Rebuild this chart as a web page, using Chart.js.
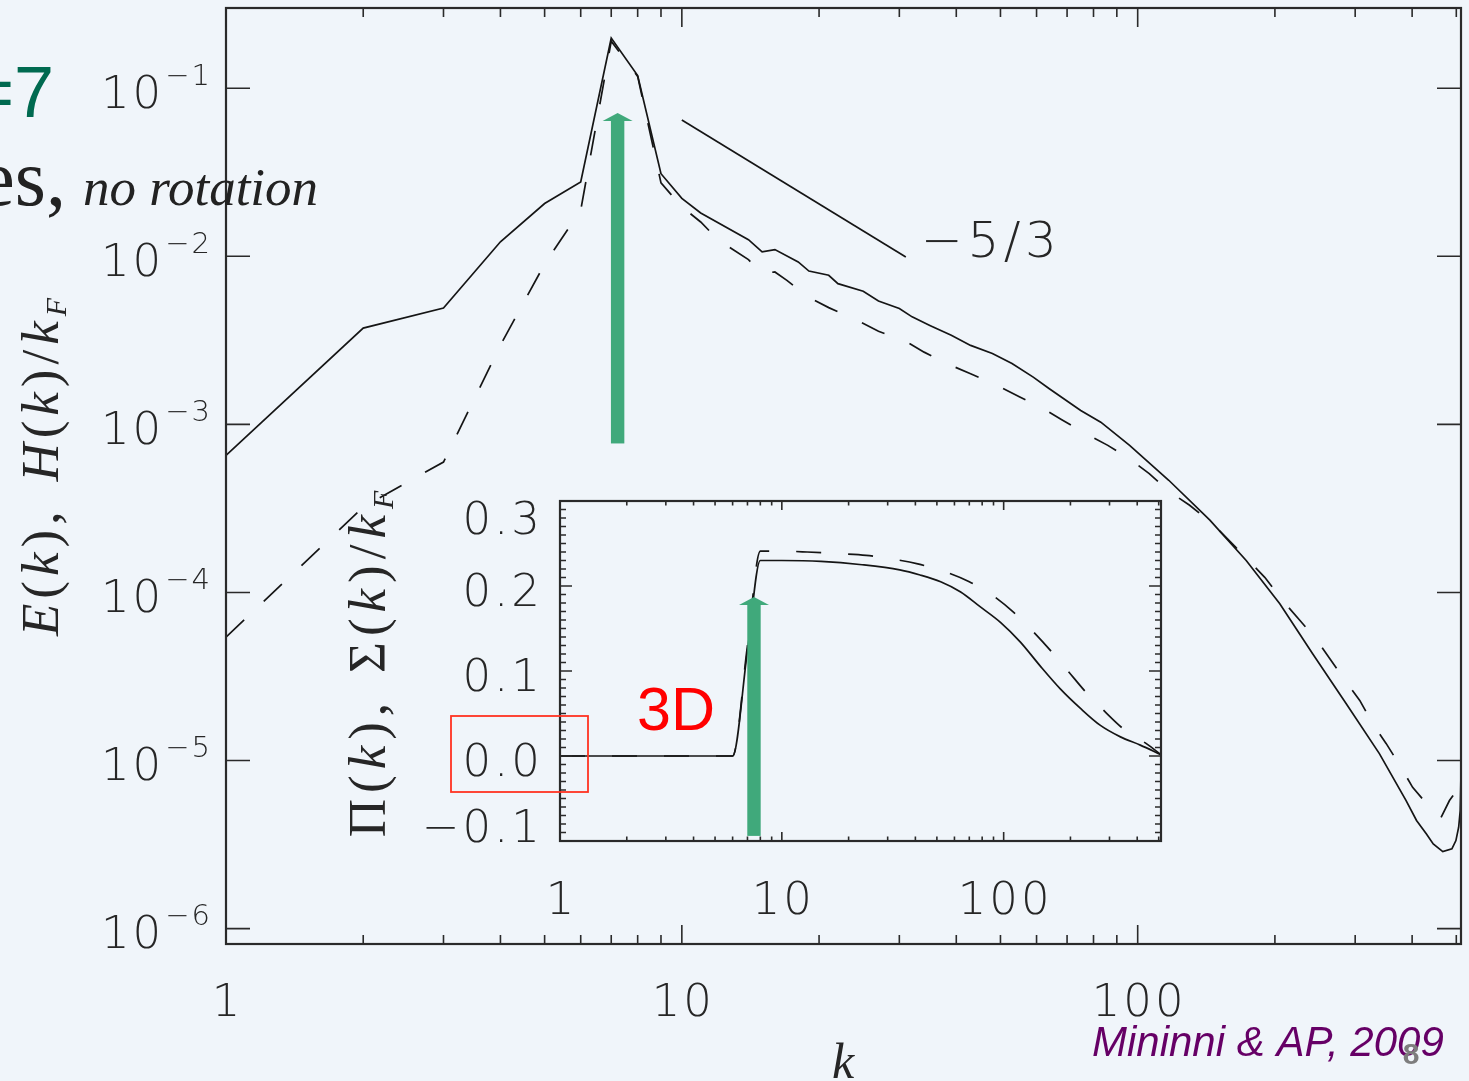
<!DOCTYPE html>
<html>
<head>
<meta charset="utf-8">
<script src="https://cdn.jsdelivr.net/npm/chart.js@4/dist/chart.umd.min.js"></script>
<style>
  html, body { margin: 0; padding: 0; background: #f0f5fa; }
  #wrap { position: relative; width: 1469px; height: 1081px; overflow: hidden; }
  #wrap canvas { position: absolute; left: 0; top: 0; }
</style>
</head>
<body>
<div id="wrap">
  <canvas id="spectra" width="1469" height="1081"></canvas>
  <canvas id="fluxes" width="1469" height="1081"></canvas>
</div>
<script>
// ---- Energy spectrum E(k) (solid) ----
const kEnergy = [1,2,3,4,5,6,7,8,9,10,11,14,15,16,18,19,21,22,25,27,30,
  32,35,39,43,48,53,59,64,75,83,96,117,144,173,205,242,287,339,388,
  409,430,445,467,489,499,506,510,512];
const energy = [6.53e-4,3.74e-3,4.92e-3,1.22e-2,2.06e-2,2.77e-2,0.199,0.119,0.0310,0.0221,0.0181,
  0.01256,0.01062,0.01096,0.00925,0.00817,0.00771,0.00687,0.00619,0.00542,0.00489,
  0.00436,0.00388,0.00339,0.00295,0.00264,0.00230,0.00191,0.00163,0.00121,0.00103,
  7.50e-4,4.65e-4,2.69e-4,1.55e-4,8.57e-5,4.32e-5,2.17e-5,1.10e-5,5.78e-6,
  4.40e-6,3.66e-6,3.19e-6,2.87e-6,2.98e-6,3.34e-6,4.01e-6,5.04e-6,8.38e-6];

// ---- Helicity spectrum H(k)/kF (dashed) ----
const kHelicity = [1,2,3,4,5,6,7,8,9,10,11,12,14,15,16,17,19,21,24,27,31,34,
  39,43,49,55,62,68,77,86,97,106,117,130,146,164,190,208,227,246,264,287,
  307,328,351,378,401,437,463,483,495,512];
const helicity = [5.42e-5,3.22e-4,5.97e-4,2.96e-3,8.99e-3,0.01879,0.1905,0.1175,0.02735,0.01968,0.01600,0.01256,
  0.00955,0.00789,0.00807,0.00719,0.00568,0.00495,0.00422,0.00358,0.00312,0.00269,
  0.00224,0.00200,0.00171,0.00146,0.00124,0.00107,8.79e-4,7.50e-4,6.11e-4,5.09e-4,
  4.01e-4,3.30e-4,2.56e-4,1.86e-4,1.23e-4,8.95e-5,6.81e-5,5.30e-5,4.03e-5,2.92e-5,
  2.28e-5,1.65e-5,1.26e-5,9.12e-6,6.93e-6,5.27e-6,4.59e-6,5.78e-6,6.34e-6,8.34e-6];

// ---- Kolmogorov reference slope ----
const kSlope = [10, 31];
const slopeLine = [0.0646, 0.0099];
const slopeLabel = '\u22125/3';

// ---- Energy flux Pi(k) (solid) and helicity flux Sigma(k)/kF (dashed) ----
const kFlux = [1,6,7,8,10,15,23,34,42,52,64,78,97,119,146,180,222,273,336,413,512];
const energyFlux = [0,0,0.124,0.230,0.230,0.229,0.225,0.219,0.213,0.205,
  0.193,0.176,0.157,0.134,0.106,0.079,0.056,0.036,0.0225,0.0128,0.0015];
const kHelFlux = [1,6,7,8,10,13,18,24,31,41,54,70,88,111,135,164,195,235,284,350,443,512];
const helicityFlux = [0,0,0.13,0.241,0.241,0.240,0.238,0.236,0.232,0.226,
  0.217,0.205,0.190,0.169,0.147,0.123,0.100,0.075,0.053,0.031,0.014,0.0015];

// ---- Tick labels ----
const yDecades = [-6,-5,-4,-3,-2,-1];
const xDecadeLabels = ['1','10','100'];
const fluxTicks = [-0.1, 0.0, 0.1, 0.2, 0.3];
const fluxTickLabels = ['\u22120.1','0.0','0.1','0.2','0.3'];

// ---- Styling ----
const INK = '#262626';
const CURVE = '#151515';
const ARROW = '#40a97b';
const THIN = "'DejaVu Sans'";
const labelFont = (px) => `200 ${px}px ${THIN}`;
const DASH = [25, 27];

const pairs = (xs, ys) => xs.map((x, i) => ({ x, y: ys[i] }));

function lineSet(xs, ys, dashed, smooth) {
  const set = {
    data: pairs(xs, ys),
    showLine: true,
    borderColor: CURVE,
    borderWidth: 1.7,
    borderDash: dashed ? DASH : [],
    pointRadius: 0,
    tension: 0,
    fill: false
  };
  if (smooth) set.cubicInterpolationMode = 'monotone';
  return set;
}

function upArrow(ctx, x, yTip, yBottom) {
  const shaft = 13.4, head = 30, headH = 8;
  ctx.save();
  ctx.fillStyle = ARROW;
  ctx.fillRect(x - shaft / 2, yTip + headH - 0.5, shaft, yBottom - yTip - headH + 0.5);
  ctx.beginPath();
  ctx.moveTo(x, yTip);
  ctx.lineTo(x + head / 2, yTip + headH);
  ctx.lineTo(x - head / 2, yTip + headH);
  ctx.closePath();
  ctx.fill();
  ctx.restore();
}

// spaced text: draws glyph by glyph with extra tracking
function spacedWidth(ctx, text, track) {
  let w = 0;
  for (const ch of text) w += ctx.measureText(ch).width + track;
  return w - track;
}
function spacedText(ctx, text, x, y, track, align) {
  const w = spacedWidth(ctx, text, track);
  let cx = align === 'center' ? x - w / 2 : align === 'right' ? x - w : x;
  const saved = ctx.textAlign;
  ctx.textAlign = 'left';
  for (const ch of text) {
    ctx.fillText(ch, cx, y);
    cx += ctx.measureText(ch).width + track;
  }
  ctx.textAlign = saved;
}

function richWidth(ctx, parts, gap) {
  let w = 0;
  parts.forEach((p, i) => {
    ctx.font = p.font;
    w += ctx.measureText(p.text).width + (i < parts.length - 1 ? (p.gap ?? gap) : 0);
  });
  return w;
}
function drawRich(ctx, parts, x, y, gap) {
  let cx = x;
  parts.forEach((p) => {
    ctx.font = p.font;
    ctx.fillText(p.text, cx, y + (p.dy || 0));
    cx += ctx.measureText(p.text).width + (p.gap ?? gap);
  });
}
function verticalTitle(ctx, parts, xBase, yCenter, gap) {
  ctx.save();
  ctx.translate(xBase, yCenter);
  ctx.rotate(-Math.PI / 2);
  ctx.fillStyle = INK;
  ctx.textAlign = 'left';
  ctx.textBaseline = 'alphabetic';
  const w = richWidth(ctx, parts, gap);
  drawRich(ctx, parts, -w / 2, 0, gap);
  ctx.restore();
}

// ---------- main spectra panel ----------
const spectraDecor = {
  id: 'spectraDecor',
  afterDatasetsDraw(chart) {
    const { ctx, chartArea: a, scales: { x, y } } = chart;
    ctx.save();

    // forcing arrow at kF
    upArrow(ctx, x.getPixelForValue(7.23), y.getPixelForValue(0.0713), y.getPixelForValue(7.7e-4));

    // frame
    ctx.strokeStyle = '#2a2a2a';
    ctx.lineWidth = 2.2;
    ctx.strokeRect(a.left, a.top, a.right - a.left, a.bottom - a.top);

    // x ticks (inward, top and bottom)
    ctx.lineWidth = 1.6;
    ctx.beginPath();
    [1, 10, 100].forEach((d) => {
      for (let m = 1; m <= 9; m++) {
        const k = m * d;
        if (k > 512) break;
        const px = x.getPixelForValue(k);
        const len = m === 1 ? 19 : 9;
        ctx.moveTo(px, a.bottom); ctx.lineTo(px, a.bottom - len);
        ctx.moveTo(px, a.top); ctx.lineTo(px, a.top + len);
      }
    });
    // y ticks, decades only
    yDecades.forEach((e) => {
      const py = y.getPixelForValue(Math.pow(10, e));
      ctx.moveTo(a.left, py); ctx.lineTo(a.left + 24, py);
      ctx.moveTo(a.right, py); ctx.lineTo(a.right - 24, py);
    });
    ctx.stroke();

    // y tick labels 10^e
    ctx.fillStyle = INK;
    ctx.textBaseline = 'alphabetic';
    ctx.textAlign = 'left';
    yDecades.forEach((e) => {
      const py = y.getPixelForValue(Math.pow(10, e));
      const base = '10', sup = '\u2212' + Math.abs(e);
      ctx.font = labelFont(45);
      const wb = spacedWidth(ctx, base, 3);
      ctx.font = labelFont(29);
      const ws = spacedWidth(ctx, sup, 2);
      const x0 = 210 - ws - wb - 4;
      ctx.font = labelFont(45);
      spacedText(ctx, base, x0, py + 19.5, 3, 'left');
      ctx.font = labelFont(29);
      spacedText(ctx, sup, x0 + wb + 4, py - 3.5, 2, 'left');
    });

    // x tick labels
    ctx.font = labelFont(45);
    xDecadeLabels.forEach((t) => {
      spacedText(ctx, t, x.getPixelForValue(Number(t)), 1016, 3, 'center');
    });

    // slope label
    ctx.font = labelFont(50);
    spacedText(ctx, slopeLabel, 921, 257, 4.5, 'left');

    // axis titles
    ctx.textAlign = 'center';
    ctx.font = "italic 50px 'Liberation Serif'";
    ctx.fillText('k', 843, 1078);

    const mi = "italic 53px 'Liberation Serif'";
    const up = "53px 'Liberation Serif'";
    const sb = "italic 30px 'Liberation Serif'";
    verticalTitle(ctx, [
      { text: 'E', font: mi }, { text: '(', font: up }, { text: 'k', font: mi },
      { text: ')', font: up }, { text: ',', font: up, gap: 30 },
      { text: 'H', font: mi }, { text: '(', font: up }, { text: 'k', font: mi },
      { text: ')', font: up }, { text: '/', font: up }, { text: 'k', font: mi },
      { text: 'F', font: sb, dy: 8 }
    ], 58, 467, 5);

    // slide heading fragments on the left
    ctx.textAlign = 'right';
    ctx.fillStyle = '#006a50';
    ctx.font = "72px 'Liberation Sans'";
    ctx.fillText('=7', 54, 117);
    ctx.fillStyle = '#222222';
    ctx.font = "80px 'Liberation Serif'";
    ctx.fillText('es,', 66, 205);
    ctx.textAlign = 'left';
    ctx.font = "italic 53px 'Liberation Serif'";
    ctx.fillText('no rotation', 83, 205);

    // citation
    ctx.fillStyle = '#660066';
    ctx.font = "italic 42px 'Liberation Sans'";
    ctx.fillText('Mininni & AP, 2009', 1092, 1056);
    ctx.fillStyle = '#7d7d7d';
    ctx.font = "bold 30px 'Liberation Sans'";
    ctx.textAlign = 'center';
    ctx.fillText('8', 1411, 1064);

    ctx.restore();
  }
};

new Chart(document.getElementById('spectra'), {
  type: 'scatter',
  data: {
    datasets: [
      lineSet(kEnergy, energy, false, false),
      lineSet(kHelicity, helicity, true, false),
      lineSet(kSlope, slopeLine, false, false)
    ]
  },
  options: {
    responsive: false,
    animation: false,
    devicePixelRatio: 1,
    layout: { padding: { left: 226, right: 8, top: 8, bottom: 137 } },
    plugins: { legend: { display: false }, tooltip: { enabled: false } },
    scales: {
      x: { type: 'logarithmic', min: 1, max: 512, display: false },
      y: { type: 'logarithmic', min: 8.1e-7, max: 0.3, display: false }
    }
  },
  plugins: [spectraDecor]
});

// ---------- inset: fluxes ----------
const fluxDecor = {
  id: 'fluxDecor',
  afterDatasetsDraw(chart) {
    const { ctx, chartArea: a, scales: { x, y } } = chart;
    ctx.save();

    upArrow(ctx, x.getPixelForValue(7.49), y.getPixelForValue(0.187), y.getPixelForValue(-0.094));

    ctx.strokeStyle = '#2a2a2a';
    ctx.lineWidth = 2.2;
    ctx.strokeRect(a.left, a.top, a.right - a.left, a.bottom - a.top);

    ctx.lineWidth = 1.6;
    ctx.beginPath();
    [1, 10, 100].forEach((d) => {
      for (let m = 1; m <= 9; m++) {
        const k = m * d;
        if (k > 512) break;
        const px = x.getPixelForValue(k);
        const len = m === 1 ? 9 : 4.5;
        ctx.moveTo(px, a.bottom); ctx.lineTo(px, a.bottom - len);
        ctx.moveTo(px, a.top); ctx.lineTo(px, a.top + len);
      }
    });
    for (let i = -10; i <= 30; i++) {
      const py = y.getPixelForValue(i / 100);
      const len = i % 10 === 0 ? 12 : 6;
      ctx.moveTo(a.left, py); ctx.lineTo(a.left + len, py);
      ctx.moveTo(a.right, py); ctx.lineTo(a.right - len, py);
    }
    ctx.stroke();

    // tick labels
    ctx.fillStyle = INK;
    ctx.font = labelFont(45);
    ctx.textBaseline = 'alphabetic';
    xDecadeLabels.forEach((t) => spacedText(ctx, t, x.getPixelForValue(Number(t)), 914, 3, 'center'));
    fluxTicks.forEach((v, i) => {
      const py = y.getPixelForValue(v);
      let shift = 19.5;
      if (i === fluxTicks.length - 1) shift = 33;
      if (i === 0) shift = 1;
      spacedText(ctx, fluxTickLabels[i], 540, py + shift, 3, 'right');
    });

    // axis title
    const mi = "italic 53px 'Liberation Serif'";
    const up = "53px 'Liberation Serif'";
    const sb = "italic 30px 'Liberation Serif'";
    verticalTitle(ctx, [
      { text: '\u03A0', font: up }, { text: '(', font: up }, { text: 'k', font: mi },
      { text: ')', font: up }, { text: ',', font: up, gap: 30 },
      { text: '\u03A3', font: up }, { text: '(', font: up }, { text: 'k', font: mi },
      { text: ')', font: up }, { text: '/', font: up }, { text: 'k', font: mi },
      { text: 'F', font: sb, dy: 8 }
    ], 385, 664, 6);

    // 3D marker and highlight box
    ctx.fillStyle = '#ff0000';
    ctx.textAlign = 'left';
    ctx.font = "61px 'Liberation Sans'";
    ctx.fillText('3D', 637, 730);
    ctx.strokeStyle = '#ff3322';
    ctx.lineWidth = 1.8;
    ctx.strokeRect(451, 716, 137, 76);

    ctx.restore();
  }
};

new Chart(document.getElementById('fluxes'), {
  type: 'scatter',
  data: {
    datasets: [
      lineSet(kFlux, energyFlux, false, true),
      lineSet(kHelFlux, helicityFlux, true, true)
    ]
  },
  options: {
    responsive: false,
    animation: false,
    devicePixelRatio: 1,
    layout: { padding: { left: 560, right: 308, top: 501, bottom: 240 } },
    plugins: { legend: { display: false }, tooltip: { enabled: false } },
    scales: {
      x: { type: 'logarithmic', min: 1, max: 512, display: false },
      y: { type: 'linear', min: -0.1, max: 0.3, display: false }
    }
  },
  plugins: [fluxDecor]
});
</script>
</body>
</html>
